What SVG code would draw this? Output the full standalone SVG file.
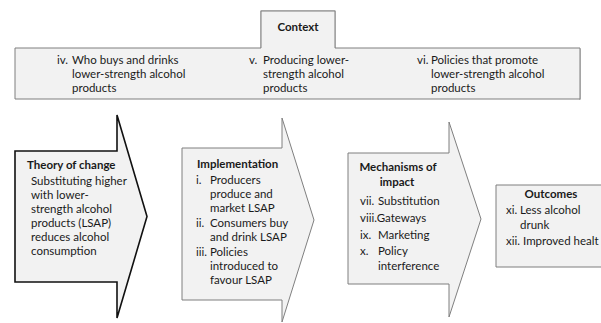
<svg xmlns="http://www.w3.org/2000/svg" width="601" height="323" viewBox="0 0 601 323">
<style>
.shape{fill:#f2f2f2;stroke:#7f7f7f;stroke-width:1}
.bold-shape{fill:#f2f2f2;stroke:#111;stroke-width:1.6}
text{font-family:Lato,"Liberation Sans",sans-serif;font-size:11.5px;fill:#1a1a1a}
.t{font-weight:bold}
.c{text-anchor:middle}
</style>
<rect width="601" height="323" fill="#fff"/>
<g id="context">
<path d="M15,49.5 H261 V11 H335 V49.5 H580 V100" fill="none" stroke="#bdbdbd" stroke-width="1.5"/>
<path class="shape" d="M15,48 H261 V11 H335 V48 H580 V99 H15 Z"/>
<text class="t c" x="298" y="31">Context</text>
<text x="57" y="64">iv.</text><text x="72" y="64">Who buys and drinks</text>
<text x="72" y="78">lower-strength alcohol</text>
<text x="72" y="92">products</text>
<text x="249" y="64">v.</text><text x="263" y="64">Producing lower-</text>
<text x="263" y="78">strength alcohol</text>
<text x="263" y="92">products</text>
<text x="417" y="64">vi.</text><text x="431" y="64">Policies that promote</text>
<text x="431" y="78">lower-strength alcohol</text>
<text x="431" y="92">products</text>
</g>
<g id="theory">
<path class="bold-shape" d="M15,151 H117 V115 L147,216.5 L117,318 V282 H15 Z"/>
<text class="t" x="27" y="169">Theory of change</text>
<text x="31" y="185">Substituting higher</text>
<text x="31" y="199">with lower-</text>
<text x="31" y="213">strength alcohol</text>
<text x="31" y="227">products (LSAP)</text>
<text x="31" y="241">reduces alcohol</text>
<text x="31" y="255">consumption</text>
</g>
<g id="implementation">
<path class="shape" d="M182,148 H282 V118 L314,220 L282,322 V300 H182 Z"/>
<text class="t" x="197" y="168">Implementation</text>
<text x="196" y="184">i.</text><text x="210" y="184">Producers</text>
<text x="210" y="198">produce and</text>
<text x="210" y="212">market LSAP</text>
<text x="196" y="227">ii.</text><text x="210" y="227">Consumers buy</text>
<text x="210" y="241">and drink LSAP</text>
<text x="196" y="256">iii.</text><text x="210" y="256">Policies</text>
<text x="210" y="270">introduced to</text>
<text x="210" y="284">favour LSAP</text>
</g>
<g id="mechanisms">
<path class="shape" d="M348,153 H449 V122 L481,219 L449,317 V284 H348 Z"/>
<text class="t c" x="398" y="171">Mechanisms of</text>
<text class="t c" x="397" y="186">impact</text>
<text x="360" y="205">vii.</text><text x="378" y="205">Substitution</text>
<text x="360" y="222">viii.Gateways</text>
<text x="360" y="239">ix.</text><text x="378" y="239">Marketing</text>
<text x="360" y="255">x.</text><text x="378" y="255">Policy</text>
<text x="378" y="270">interference</text>
</g>
<g id="outcomes">
<path d="M601,185 H496 V267 H601 Z" fill="#f2f2f2"/>
<path d="M601,185 H496 V267 H601" fill="none" stroke="#7f7f7f" stroke-width="1"/>
<text class="t c" x="551" y="198">Outcomes</text>
<text x="506" y="214">xi.</text><text x="520" y="214">Less alcohol</text>
<text x="520" y="229">drunk</text>
<text x="506" y="245">xii.</text><text x="523" y="245">Improved healt</text>
</g>
<g id="connectors"></g>
</svg>
